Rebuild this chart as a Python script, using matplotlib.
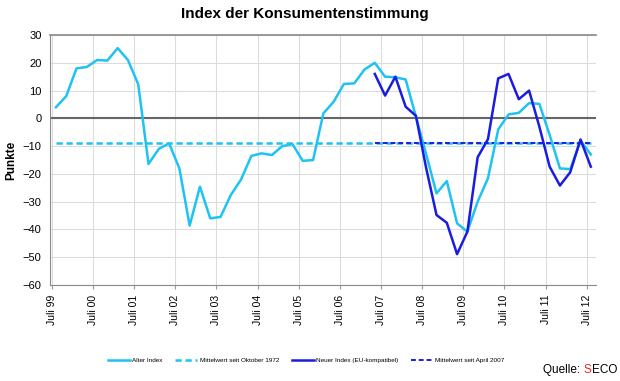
import numpy as np
import matplotlib
matplotlib.use("Agg")
import matplotlib.pyplot as plt

plt.rcParams['font.family'] = ['Liberation Sans', 'DejaVu Sans']

# Quartalswerte ab Juli 1999 bis Juli 2012
alter_index = [4.0, 8, 18, 18.5, 21, 20.8, 25.3, 21, 12.3, -16.4,
               -11, -9, -18, -38.6, -24.6, -36, -35.5, -27.6, -22, -13.5,
               -12.6, -13.2, -10, -9.3, -15.3, -15, 1.8, 6, 12.4, 12.6,
               17.6, 20.0, 15.0, 14.8, 14.0, 0.6, -13, -27.0, -22.6, -37.8,
               -40.8, -30, -21.6, -4, 1.4, 2.0, 5.5, 5.2, -6, -18,
               -18.3, -8, -13]
neuer_start = 31  # erster Wert des neuen Index (Juli 2007)
neuer_index = [16.0, 8.2, 15.0, 4.2, 0.9, -18, -34.8, -37.6, -48.9, -40.8,
               -14.0, -7.5, 14.4, 16.0, 6.9, 10.0, -3, -17.4, -24.2, -19.4,
               -7.6, -17.4]
mittel_alt = -8.7
mittel_neu = -8.9
jahre = ['99', '00', '01', '02', '03', '04', '05', '06', '07', '08', '09', '10', '11', '12']

cyan = '#1ec3f2'
blau = '#1c1ce0'

fig = plt.figure(figsize=(6.2, 3.81), dpi=100)
ax = fig.add_axes([0.0806, 0.252, 0.8806, 0.656])

x_alt = np.arange(len(alter_index))
x_neu = np.arange(neuer_start, neuer_start + len(neuer_index))

ax.axhline(0, color='#666666', lw=1.5, zorder=2)
ax.plot([x_alt[0], x_alt[-1]], [mittel_alt, mittel_alt], color=cyan, lw=1.8, ls=(0, (2.5, 1.5)), zorder=3,
        label='Mittelwert seit Oktober 1972')
ax.plot(x_alt, alter_index, color=cyan, lw=1.8, zorder=4, label='Alter Index')
ax.plot([x_neu[0], x_neu[-1]], [mittel_neu, mittel_neu], color=blau, lw=1.4, ls=(0, (2.5, 1.5)), zorder=3,
        label='Mittelwert seit April 2007')
ax.plot(x_neu, neuer_index, color=blau, lw=1.8, zorder=5, label='Neuer Index (EU-kompatibel)')

ax.set_ylim(-60, 30)
ax.set_yticks(np.arange(-60, 31, 10))
ax.set_xlim(-0.58, 52.5)
ax.set_xticks(np.arange(len(jahre)) * 4 - 0.4)
ax.set_xticklabels(['Juli ' + j for j in jahre], rotation=90, fontsize=7.5)
ax.tick_params(axis='y', labelsize=8, length=0, pad=6)
ax.tick_params(axis='x', length=3, color='#999999', pad=4)
ax.grid(True, color='#dcdcdc', lw=0.8)
ax.set_axisbelow(True)
ax.spines['right'].set_visible(False)
for s in ['left', 'top', 'bottom']:
    ax.spines[s].set_color('#8a8a8a')
ax.spines['top'].set_linewidth(1.2)

ax.set_ylabel('Punkte', fontsize=8.5, fontweight='bold', labelpad=4)
ax.set_title('Index der Konsumentenstimmung', fontsize=11, fontweight='bold', pad=12, x=0.467)

h, l = ax.get_legend_handles_labels()
order = [1, 0, 3, 2]
fig.legend([h[i] for i in order], [l[i] for i in order], loc='center', bbox_to_anchor=(0.494, 0.055),
           ncol=4, frameon=False, fontsize=4.6, handlelength=3.4, columnspacing=2.0, handletextpad=0.4)

# Quelle mit rotem S
fig.canvas.draw()
r = fig.canvas.get_renderer()
t3 = fig.text(0.995, 0.012, 'ECO', ha='right', va='bottom', fontsize=8.5)
bb = t3.get_window_extent(r)
t2 = fig.text(bb.x0 / fig.bbox.width, 0.012, 'S', ha='right', va='bottom', fontsize=8.5, color='#e8262a')
bb = t2.get_window_extent(r)
fig.text(bb.x0 / fig.bbox.width, 0.012, 'Quelle: ', ha='right', va='bottom', fontsize=8.5)

fig.savefig('out.png', dpi=100)
